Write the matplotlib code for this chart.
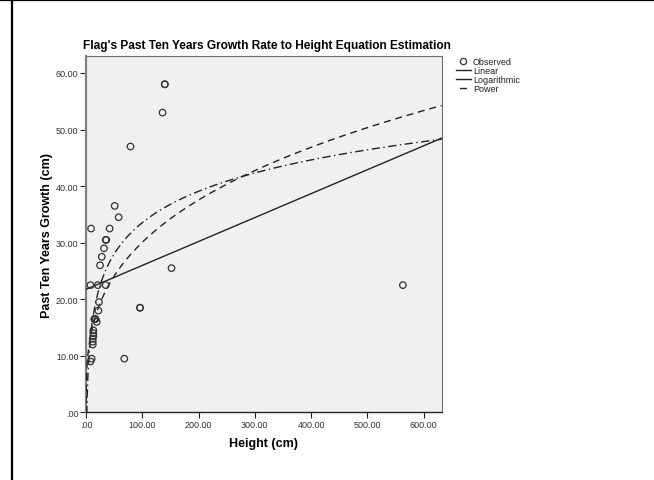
import numpy as np
import matplotlib
matplotlib.use("Agg")
import matplotlib.pyplot as plt
from matplotlib.lines import Line2D
from matplotlib.ticker import FuncFormatter

plt.rcParams['font.family'] = ['Liberation Sans', 'DejaVu Sans']
plt.rcParams['lines.scale_dashes'] = False

# Observed data (height cm, past ten years growth cm)
heights = [140, 140, 136, 79, 51, 58, 9, 42, 35, 36, 32, 28, 25, 8, 21, 35,
           23, 22, 15, 15, 17, 19, 13, 13, 13, 12, 12, 12, 10, 8, 96, 96, 68, 152, 563]
growth = [58, 58, 53, 47, 36.5, 34.5, 32.5, 32.5, 30.5, 30.5, 29, 27.5, 26, 22.5, 22.5, 22.5,
          19.5, 18, 16.5, 16.5, 16.5, 16, 14.5, 14, 13.5, 13, 12.5, 12, 9.5, 9, 18.5, 18.5, 9.5, 25.5, 22.5]

# Estimated model coefficients
linear_coef = (21.75, 0.0423)      # y = b0 + b1*x
log_coef = (-3.3, 8.0)             # y = b0 + b1*ln(x)
power_coef = (6.89, 0.320)         # y = b0 * x**b1

title = "Flag's Past Ten Years Growth Rate to Height Equation Estimation"
xlabel = "Height (cm)"
ylabel = "Past Ten Years Growth (cm)"
legend_labels = ["Observed", "Linear", "Logarithmic", "Power"]
xticks = [0, 100, 200, 300, 400, 500, 600]
yticks = [0, 10, 20, 30, 40, 50, 60]

fig = plt.figure(figsize=(6.54, 4.81), dpi=100)
fig.patch.set_facecolor('white')
ax = fig.add_axes([86/654, 1-413.4/481, (441.7-86)/654, (413.4-57)/481])
ax.set_facecolor('#F0F0F0')
ax.set_xlim(0, 632)
ax.set_ylim(0, 63)

xs = np.concatenate([np.geomspace(0.01, 10, 300), np.linspace(10, 632, 600)])
lin = linear_coef[0] + linear_coef[1] * xs
logv = log_coef[0] + log_coef[1] * np.log(xs)
powv = power_coef[0] * xs ** power_coef[1]

ax.plot(xs, lin, color='#222222', lw=1.0, zorder=3)
ax.plot(xs, logv, color='#222222', lw=1.0, dashes=(6, 2.5, 1, 2.5), zorder=3)
ax.plot(xs, powv, color='#222222', lw=1.0, dashes=(5, 3.5), zorder=3)
ax.scatter(heights, growth, s=22, facecolors='none', edgecolors='#333333',
           linewidths=0.9, zorder=4, clip_on=False)

fmt = FuncFormatter(lambda v, p: (f"{v:.2f}" if v != 0 else ".00"))
ax.set_xticks(xticks)
ax.set_yticks(yticks)
ax.xaxis.set_major_formatter(fmt)
ax.yaxis.set_major_formatter(fmt)
ax.tick_params(axis='both', direction='out', length=4, width=0.8, color='#222222',
               labelsize=6.5, labelcolor='#333333', pad=1.5)

for s in ['top', 'right']:
    ax.spines[s].set_color('#707070')
    ax.spines[s].set_linewidth(0.8)
ax.spines['left'].set_color('#808080')
ax.spines['left'].set_linewidth(1.6)
ax.spines['bottom'].set_color('#222222')
ax.spines['bottom'].set_linewidth(1.0)

ax.set_xlabel(xlabel, fontsize=9, fontweight='bold', labelpad=6)
ax.set_ylabel(ylabel, fontsize=9, fontweight='bold', labelpad=2)
ax.set_title(title, fontsize=8.6, fontweight='bold', pad=6, x=0.51)

handles = [
    Line2D([], [], marker='o', ls='none', markersize=4.5, markerfacecolor='none',
           markeredgecolor='#333333', markeredgewidth=0.9),
    Line2D([], [], color='#222222', lw=1.0),
    Line2D([], [], color='#222222', lw=1.0),
    Line2D([], [], color='#222222', lw=1.0, dashes=(0, 2.5, 5, 20)),
]
fig.legend(handles, legend_labels, loc='upper left', bbox_to_anchor=(0.688, 0.893),
           frameon=False, fontsize=6.5, handlelength=1.6, handletextpad=0.25,
           labelspacing=0.0, borderpad=0.2, labelcolor='#222222')

# page border lines
fig.add_artist(Line2D([12/654, 12/654], [0, 1], transform=fig.transFigure,
                      color='black', lw=1.6))
fig.add_artist(Line2D([0, 1], [1-1/481, 1-1/481], transform=fig.transFigure,
                      color='black', lw=1.6))

fig.savefig('out.png', dpi=100)
